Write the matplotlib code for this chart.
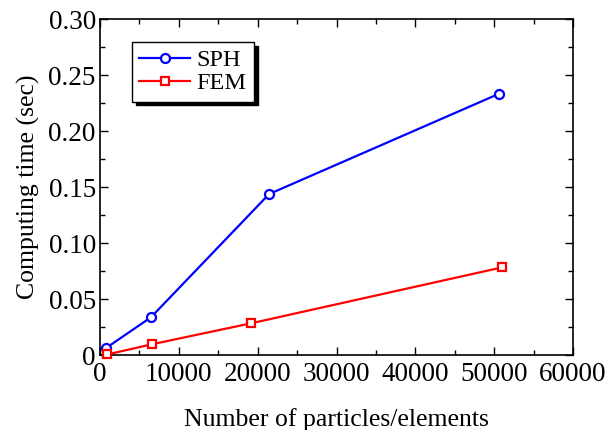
import matplotlib
matplotlib.use("Agg")
import matplotlib.pyplot as plt
from matplotlib.ticker import MultipleLocator, FuncFormatter

sph_x = [720, 6470, 21450, 50630]
sph_y = [0.006, 0.0337, 0.1437, 0.2333]
fem_x = [930, 6600, 19160, 51050]
fem_y = [0.0005, 0.0096, 0.0283, 0.0783]

plt.rcParams['font.family'] = ['Liberation Serif', 'DejaVu Serif']

fig = plt.figure(figsize=(6.09, 4.30), dpi=100)
ax = fig.add_axes([0.1642, 0.1744, 0.9409 - 0.1642, 0.9558 - 0.1744])

ax.plot(sph_x, sph_y, color='#0000ff', lw=1.6, marker='o', ms=6.5, mfc='white',
        mec='#0000ff', mew=1.6, label='SPH', clip_on=False, zorder=3)
ax.plot(fem_x, fem_y, color='#ff0000', lw=1.6, marker='s', ms=6, mfc='white',
        mec='#ff0000', mew=1.6, label='FEM', clip_on=False, zorder=3)

ax.set_xlim(0, 60000)
ax.set_ylim(0, 0.30)
ax.xaxis.set_major_locator(MultipleLocator(10000))
ax.xaxis.set_minor_locator(MultipleLocator(5000))
ax.yaxis.set_major_locator(MultipleLocator(0.05))
ax.yaxis.set_minor_locator(MultipleLocator(0.025))
ax.yaxis.set_major_formatter(FuncFormatter(lambda v, p: '0' if abs(v) < 1e-9 else f'{v:.2f}'))
ax.xaxis.set_major_formatter(FuncFormatter(lambda v, p: f'{int(round(v))}'))

ax.tick_params(which='both', direction='in', top=True, right=True, labelsize=19.5,
               color='black')
ax.tick_params(which='major', length=6, width=1)
ax.tick_params(which='minor', length=3.5, width=1)
ax.tick_params(axis='x', pad=5)
ax.tick_params(axis='y', pad=3)
for s in ax.spines.values():
    s.set_linewidth(1.2)
    s.set_color('black')

ax.set_xlabel('Number of particles/elements', fontsize=18.5, labelpad=15)
ax.set_ylabel('Computing time (sec)', fontsize=18.5, labelpad=6)

leg = ax.legend(loc='upper left', bbox_to_anchor=(0.068, 0.932), borderaxespad=0,
                fontsize=17.5, fancybox=False, edgecolor='black', framealpha=1,
                shadow={'ox': 2.7, 'oy': -2.7, 'facecolor': 'black', 'edgecolor': 'black', 'alpha': 1},
                handlelength=2.1, handletextpad=0.25, borderpad=0.3, labelspacing=0.05)
leg.get_frame().set_linewidth(1.0)

fig.savefig('out.png', dpi=100)
